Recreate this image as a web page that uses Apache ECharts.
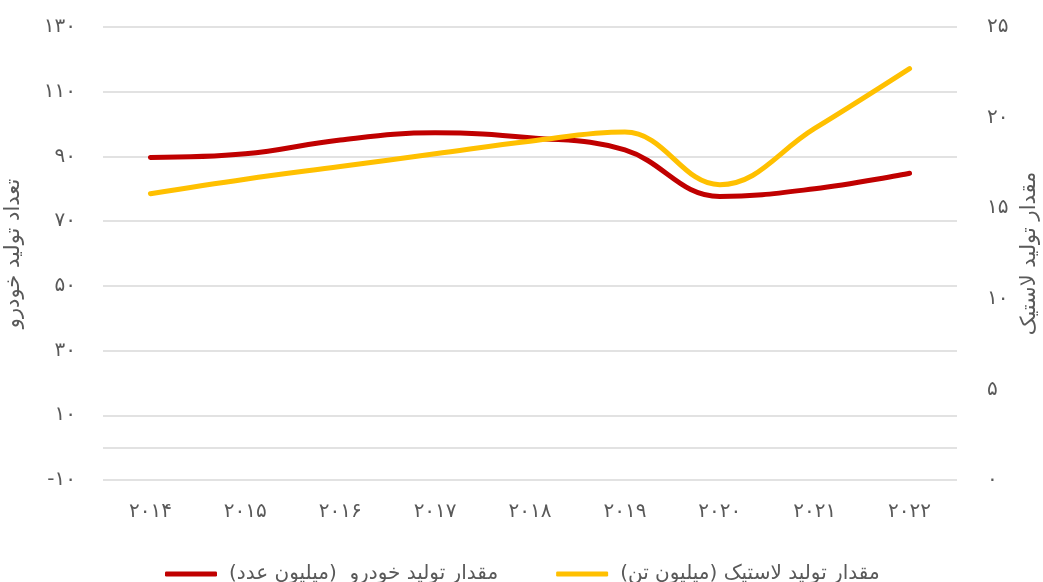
<!DOCTYPE html>
<html lang="fa">
<head>
    <meta charset="UTF-8">
    <title>تولید خودرو و لاستیک</title>
    <script src="https://cdn.jsdelivr.net/npm/echarts@6/dist/echarts.min.js"></script>
    <style>
        html, body { margin: 0; padding: 0; background: #fff; }
    </style>
</head>
<body>
<div id="main" style="width: 1043px;height:582px;"></div>
<script type="text/javascript">

    // data
    var years = ['2014', '2015', '2016', '2017', '2018', '2019', '2020', '2021', '2022'];
    var carProduction = [89.7, 90.8, 95.1, 97.3, 95.8, 92.0, 77.6, 80.0, 84.8];   // left axis
    var tireProduction = [15.8, 16.6, 17.3, 18.0, 18.7, 19.2, 16.3, 19.4, 22.7];  // right axis
    var leftTicks = { min: -10, max: 130, interval: 20 };
    var rightTicks = { min: 0, max: 25, interval: 5 };

    var carName = 'مقدار تولید خودرو  (میلیون عدد)\u200F';
    var tireName = 'مقدار تولید لاستیک (میلیون تن)\u200F';

    var faDigits = '۰۱۲۳۴۵۶۷۸۹';
    function fa(v) {
        return String(v).replace(/\d/g, function (d) { return faDigits[d]; });
    }

    var font = 'DejaVu Sans';
    var gray = '#595959';

    var myChart = echarts.init(document.getElementById('main'));
    var option = {
        animation: false,
        textStyle: { fontFamily: font },
        grid: { left: 103, right: 86, top: 27, bottom: 102, outerBoundsMode: 'none' },
        legend: {
            left: 160,
            top: 559,
            itemWidth: 52,
            itemHeight: 5,
            itemGap: 58,
            icon: 'roundRect',
            textStyle: { fontSize: 20, color: gray, fontFamily: font, padding: [0, 0, 0, 7] },
            data: [carName, tireName]
        },
        xAxis: {
            type: 'category',
            data: years,
            boundaryGap: true,
            axisLine: { show: false },
            axisTick: { show: false },
            axisLabel: { margin: 22, fontSize: 20, color: gray, formatter: fa }
        },
        yAxis: [
            {
                type: 'value',
                min: leftTicks.min,
                max: leftTicks.max,
                interval: leftTicks.interval,
                name: 'تعداد تولید خودرو',
                nameLocation: 'middle',
                nameRotate: 90,
                nameGap: 79,
                nameTextStyle: { fontSize: 21, color: gray },
                axisLine: { show: false },
                axisTick: { show: false },
                axisLabel: { margin: 27, fontSize: 20, color: gray, formatter: fa },
                splitLine: { lineStyle: { color: '#d9d9d9', width: 1.5 } }
            },
            {
                type: 'value',
                min: rightTicks.min,
                max: rightTicks.max,
                interval: rightTicks.interval,
                name: 'مقدار تولید لاستیک',
                nameLocation: 'middle',
                nameRotate: 90,
                nameGap: 59,
                nameTextStyle: { fontSize: 21, color: gray },
                axisLine: { show: false },
                axisTick: { show: false },
                axisLabel: { margin: 30, fontSize: 20, color: gray, formatter: fa },
                splitLine: { show: false }
            }
        ],
        series: [
            {
                name: carName,
                type: 'line',
                yAxisIndex: 0,
                data: carProduction,
                smooth: 0.4,
                showSymbol: false,
                itemStyle: { color: '#C00000' },
                lineStyle: { color: '#C00000', width: 5, cap: 'round' },
                markLine: {
                    silent: true,
                    symbol: 'none',
                    label: { show: false },
                    lineStyle: { color: '#d9d9d9', width: 1.5, type: 'solid' },
                    data: [{ yAxis: 0 }]
                }
            },
            {
                name: tireName,
                type: 'line',
                yAxisIndex: 1,
                data: tireProduction,
                smooth: 0.4,
                showSymbol: false,
                itemStyle: { color: '#FFC000' },
                lineStyle: { color: '#FFC000', width: 5, cap: 'round' }
            }
        ]
    };
    myChart.setOption(option);

</script>
</body>
</html>
